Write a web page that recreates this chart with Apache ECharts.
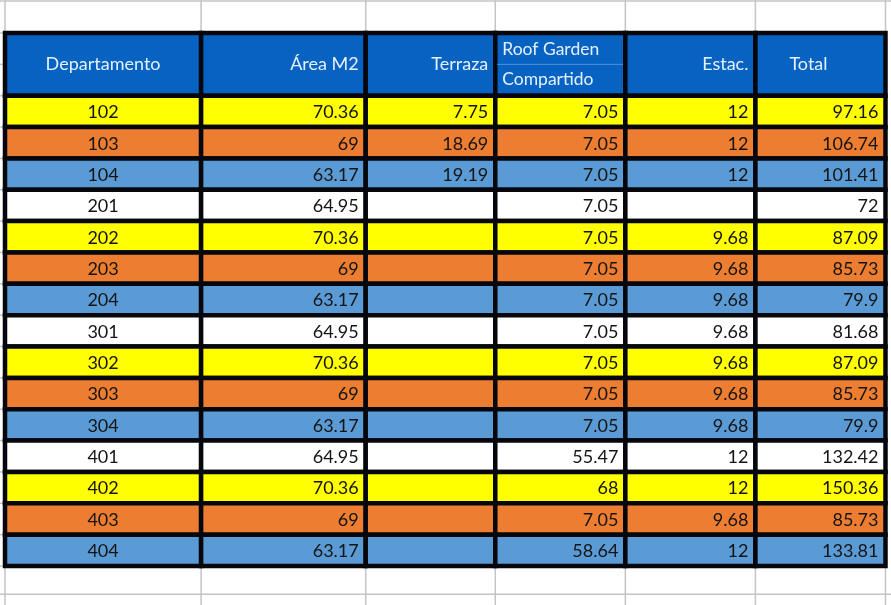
<!DOCTYPE html>
<html>
<head>
<meta charset="utf-8">
<script src="https://cdn.jsdelivr.net/npm/echarts@6/dist/echarts.min.js"></script>
<style>
html,body{margin:0;padding:0;background:#fff;}
#chart{width:891px;height:605px;}
</style>
</head>
<body>
<div id="chart"></div>
<script>
// ---- data ----
var headers = ['Departamento', 'Área M2', 'Terraza', 'Roof Garden\nCompartido', 'Estac.', 'Total'];
var departamentos = ['102','103','104','201','202','203','204','301','302','303','304','401','402','403','404'];
var areaM2 =   ['70.36','69','63.17','64.95','70.36','69','63.17','64.95','70.36','69','63.17','64.95','70.36','69','63.17'];
var terraza =  ['7.75','18.69','19.19','','','','','','','','','','','',''];
var roofGarden = ['7.05','7.05','7.05','7.05','7.05','7.05','7.05','7.05','7.05','7.05','7.05','55.47','68','7.05','58.64'];
var estac =    ['12','12','12','','9.68','9.68','9.68','9.68','9.68','9.68','9.68','12','12','9.68','12'];
var total =    ['97.16','106.74','101.41','72','87.09','85.73','79.9','81.68','87.09','85.73','79.9','132.42','150.36','85.73','133.81'];

// ---- layout / style ----
var colWidths = [196, 164.5, 129.5, 130, 130, 130];
var colEdges = [0];
colWidths.forEach(function(w){ colEdges.push(colEdges[colEdges.length-1] + w); });
var HEADER_UNITS = 2;
var rowFills = ['#ffff00', '#ed7d31', '#5b9bd5', '#ffffff'];
var headerFill = '#0862c2';
var headerText = '#e4f1ff';
var cellText = '#141414';
var borderColor = '#05070d';
var FONT = 'Lato, "Noto Sans", sans-serif';
var FS = 18;
var HFS = 18;

var columns = [departamentos, areaM2, terraza, roofGarden, estac, total];
var cellData = [];
// header cells: [col, rowIndex(-1 = header)]
for (var c = 0; c < headers.length; c++) cellData.push([c, -1]);
for (var r = 0; r < departamentos.length; r++) {
  for (var c2 = 0; c2 < columns.length; c2++) cellData.push([c2, r]);
}

function renderCell(params, api) {
  var c = api.value(0), r = api.value(1);
  var y0 = r < 0 ? 0 : HEADER_UNITS + r;
  var y1 = r < 0 ? HEADER_UNITS : HEADER_UNITS + r + 1;
  var p0 = api.coord([colEdges[c], y0]);
  var p1 = api.coord([colEdges[c + 1], y1]);
  var x = p0[0], y = p0[1], w = p1[0] - p0[0], h = p1[1] - p0[1];
  var children = [];
  var fill = r < 0 ? headerFill : rowFills[r % 4];
  children.push({ type: 'rect', shape: { x: x, y: y, width: w, height: h },
    style: { fill: fill, stroke: borderColor, lineWidth: 4.5 } });
  var cy = y + h / 2;
  if (r < 0) {
    var txt = headers[c];
    if (c === 3) {
      var parts = txt.split('\n');
      children.push({ type: 'line', shape: { x1: x + 2, y1: cy, x2: x + w - 2, y2: cy },
        style: { stroke: '#4f93dc', lineWidth: 1 } });
      children.push({ type: 'text', style: { text: parts[0], x: x + 7, y: y + h * 0.25 + 1, align: 'left', verticalAlign: 'middle', font: (HFS - 0.5) + 'px ' + FONT, fill: headerText } });
      children.push({ type: 'text', style: { text: parts[1], x: x + 7, y: y + h * 0.75 - 1, align: 'left', verticalAlign: 'middle', font: (HFS - 0.5) + 'px ' + FONT, fill: headerText } });
    } else {
      var align = c === 0 ? 'center' : (c === 5 ? 'left' : 'right');
      var tx = c === 0 ? x + w / 2 : (c === 5 ? x + 34 : x + w - 7);
      children.push({ type: 'text', style: { text: txt, x: tx, y: cy, align: align, verticalAlign: 'middle', font: HFS + 'px ' + FONT, fill: headerText } });
    }
  } else {
    var val = columns[c][r];
    if (val !== '') {
      var al = c === 0 ? 'center' : 'right';
      var tx2 = c === 0 ? x + w / 2 : x + w - 7;
      children.push({ type: 'text', style: { text: val, x: tx2, y: cy + 1, align: al, verticalAlign: 'middle', font: FS + 'px ' + FONT, fill: cellText } });
    }
  }
  return { type: 'group', children: children };
}

// spreadsheet background grid lines
function renderSheet(params, api) {
  var ch = [];
  var gray = '#c4c4c4';
  var top = api.coord([0, -1.02])[1];
  var bottom = api.coord([0, 17.9])[1];
  for (var i = 0; i < colEdges.length; i++) {
    var px = api.coord([colEdges[i], 0])[0];
    ch.push({ type: 'line', shape: { x1: px, y1: 0, x2: px, y2: 605 }, style: { stroke: gray, lineWidth: 1.5 } });
  }
  var left = api.coord([0, 0])[0];
  var right = api.coord([colEdges[colEdges.length - 1], 0])[0];
  ch.push({ type: 'line', shape: { x1: 0, y1: top, x2: right + 6, y2: top }, style: { stroke: gray, lineWidth: 1.5 } });
  ch.push({ type: 'line', shape: { x1: 0, y1: bottom, x2: right + 6, y2: bottom }, style: { stroke: gray, lineWidth: 1.5 } });
  for (var k = 0; k <= 17; k++) {
    var py = api.coord([0, k])[1];
    ch.push({ type: 'line', shape: { x1: 0, y1: py, x2: left, y2: py }, style: { stroke: gray, lineWidth: 1.5 } });
  }
  return { type: 'group', children: ch };
}

var chart = echarts.init(document.getElementById('chart'), null, { renderer: 'canvas' });
chart.setOption({
  backgroundColor: '#ffffff',
  animation: false,
  grid: { left: 5, right: 5.5, top: 33, bottom: 39 },
  xAxis: { type: 'value', min: 0, max: colEdges[colEdges.length - 1], show: false },
  yAxis: { type: 'value', min: 0, max: HEADER_UNITS + departamentos.length, inverse: true, show: false },
  series: [
    { type: 'custom', renderItem: renderSheet, data: [[0, 0]], clip: false, silent: true, z: 1 },
    { type: 'custom', renderItem: renderCell, data: cellData, clip: false, silent: true, z: 2 }
  ]
});
</script>
</body>
</html>
